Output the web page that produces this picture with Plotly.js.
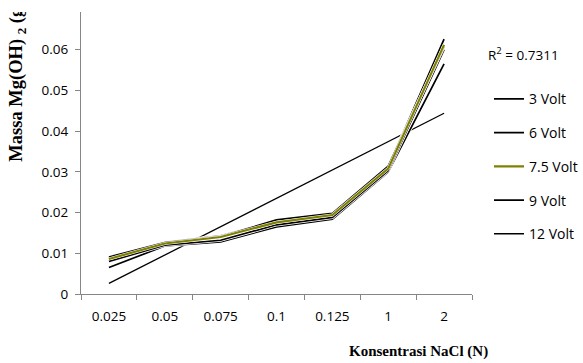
<!DOCTYPE html>
<html>
<head>
<meta charset="utf-8">
<script src="https://cdn.plot.ly/plotly-3.0.1.min.js"></script>
<style>
  html, body { margin: 0; padding: 0; background: #fff; overflow: hidden; }
  #wrap { position: relative; width: 583px; height: 363px; }
  #chart { position: absolute; left: 0; top: 0; width: 583px; height: 363px; }
  #mask { position: absolute; left: 0; top: 0; width: 583px; height: 12px; background: #fff; z-index: 10; }
</style>
</head>
<body>
<div id="wrap">
  <div id="chart"></div>
  <div id="mask"></div>
</div>
<script>
// Categories (NaCl concentration, N)
const categories = ["0.025", "0.05", "0.075", "0.1", "0.125", "1", "2"];

// Series values (Massa Mg(OH)2)
const seriesNames = ["3 Volt", "6 Volt", "7.5 Volt", "9 Volt", "12 Volt"];
const volt3   = [0.0065, 0.0118, 0.0128, 0.0165, 0.0184, 0.0300, 0.0565];
const volt6   = [0.0080, 0.0120, 0.0132, 0.0170, 0.0188, 0.0303, 0.0600];
const volt7_5 = [0.0086, 0.0124, 0.0140, 0.0176, 0.0194, 0.0308, 0.0612];
const volt9   = [0.0089, 0.0127, 0.0143, 0.0180, 0.0197, 0.0312, 0.0626];
const volt12  = [0.0091, 0.0126, 0.0141, 0.0182, 0.0198, 0.0314, 0.0608];
const seriesColors = ["#000000", "#000000", "#808000", "#000000", "#000000"];

// Linear trendline endpoints
const trendX = ["0.025", "2"];
const trendY = [0.0026, 0.0444];
const rSquaredText = "R<sup>2</sup> = 0.7311";

// Axis ticks
const yTickVals = [0, 0.01, 0.02, 0.03, 0.04, 0.05, 0.06, 0.07];
const yTickText = ["0", "0.01", "0.02", "0.03", "0.04", "0.05", "0.06", "0.07"];

const allSeries = [volt3, volt6, volt7_5, volt9, volt12];
const drawOrder = [0, 1, 3, 4, 2]; // olive line drawn last so it stays visible

const traces = [];
traces.push({
  type: "scatter", mode: "lines", x: trendX, y: trendY,
  line: { color: "#000000", width: 1.3 }, showlegend: false, hoverinfo: "skip"
});
drawOrder.forEach(i => {
  const vals = allSeries[i];
  traces.push({
    type: "scatter", mode: "lines", x: categories, y: vals,
    line: { color: "#ffffff", width: 3.2 }, showlegend: false, hoverinfo: "skip"
  });
  traces.push({
    type: "scatter", mode: "lines", x: categories, y: vals,
    name: seriesNames[i], legendgroup: "g" + i, legendrank: i + 1,
    line: { color: seriesColors[i], width: i === 2 ? 2.2 : 1.7 }
  });
});

const L = 81, R = 472, T = 8.5, B = 294;
const W = 583, H = 363;
const px2x = p => (p - L) / (R - L);
const py2y = p => (B - p) / (B - T);

const tickFont = { family: "Open Sans, Lato, sans-serif", size: 13.5, color: "#000" };
const legendFont = { family: "Open Sans, Lato, sans-serif", size: 14, color: "#000" };
const titleFont = { family: "Liberation Serif, Times New Roman, serif", size: 15, color: "#000" };

const layout = {
  width: W, height: H,
  margin: { l: L, r: W - R, t: T, b: H - B, pad: 0, autoexpand: false },
  paper_bgcolor: "#fff", plot_bgcolor: "#fff",
  showlegend: true,
  xaxis: {
    type: "category", categoryorder: "array", categoryarray: categories,
    range: [-0.5, 6.5],
    showline: true, linecolor: "#868686", linewidth: 1,
    ticks: "outside", ticklen: 5, tickcolor: "#868686", tickson: "boundaries",
    ticklabelstandoff: 10,
    showgrid: false, zeroline: false, tickfont: tickFont, fixedrange: true
  },
  yaxis: {
    range: [0, 0.07], tickvals: yTickVals, ticktext: yTickText,
    showline: true, linecolor: "#868686", linewidth: 1,
    ticks: "outside", ticklen: 5, tickcolor: "#868686",
    ticklabelstandoff: 4,
    showgrid: false, zeroline: false, tickfont: tickFont, fixedrange: true
  },
  legend: {
    x: px2x(489), xanchor: "left", y: py2y(83), yanchor: "top",
    traceorder: "grouped", tracegroupgap: 12.5,
    font: legendFont, bgcolor: "rgba(0,0,0,0)", borderwidth: 0
  },
  annotations: [
    {
      xref: "paper", yref: "paper", x: px2x(418), y: py2y(352),
      xanchor: "center", yanchor: "middle", showarrow: false,
      text: "<b>Konsentrasi NaCl (N)</b>", font: titleFont
    },
    {
      xref: "paper", yref: "paper", x: px2x(18), y: py2y(164),
      xanchor: "center", yanchor: "bottom", showarrow: false, textangle: -90,
      text: "<b>Massa Mg(OH) <sub>2</sub> (gram)</b>",
      font: { family: "Liberation Serif, Times New Roman, serif", size: 18.5, color: "#000" }
    },
    {
      xref: "paper", yref: "paper", x: px2x(486), y: py2y(54),
      xanchor: "left", yanchor: "middle", showarrow: false,
      text: rSquaredText, font: { family: "Open Sans, Lato, sans-serif", size: 13.5, color: "#000" }
    }
  ]
};

Plotly.newPlot("chart", traces, layout, { displayModeBar: false, staticPlot: true });
</script>
</body>
</html>
